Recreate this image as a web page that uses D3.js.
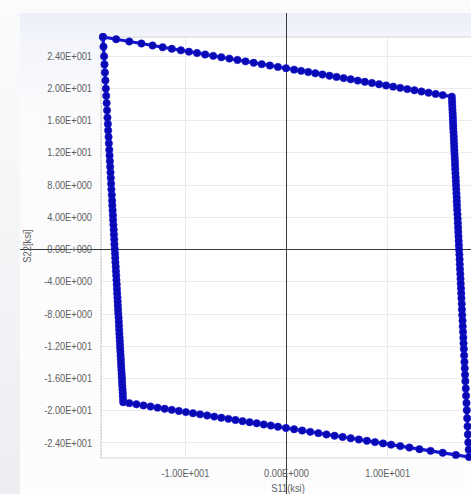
<!DOCTYPE html>
<html>
<head>
<meta charset="utf-8">
<script src="https://cdn.jsdelivr.net/npm/d3@7"></script>
<style>
html,body{margin:0;padding:0;background:#f7f8f9;}
svg{display:block;}
</style>
</head>
<body>
<svg id="chart" width="471" height="494"></svg>
<script>
// ---- data (S11 / S22 in ksi), traced along the loop ----
const topS11 = [-18.1,-16.8,-15.5,-14.3,-13.2,-12.2,-11.3,-10.4,-9.6,-8.8,-8.0,-7.2,-6.4,-5.6,-4.8,-4.0,-3.2,-2.4,-1.6,-0.8,0.0,0.8,1.5,2.2,2.9,3.6,4.3,5.0,5.7,6.4,7.1,7.8,8.5,9.2,9.9,10.6,11.3,12.0,12.7,13.4,14.1,14.8,15.5,16.4];
const topS22 = [26.30,26.02,25.74,25.49,25.25,25.03,24.84,24.65,24.48,24.31,24.13,23.96,23.79,23.62,23.45,23.28,23.10,22.93,22.76,22.59,22.42,22.25,22.10,21.95,21.80,21.65,21.50,21.35,21.20,21.05,20.89,20.74,20.59,20.44,20.29,20.14,19.99,19.84,19.69,19.54,19.39,19.24,19.09,18.90];

const rightS11 = [16.42,16.43,16.45,16.46,16.48,16.49,16.51,16.52,16.54,16.55,16.57,16.59,16.60,16.62,16.64,16.65,16.67,16.69,16.71,16.72,16.74,16.76,16.78,16.80,16.82,16.84,16.86,16.88,16.89,16.91,16.93,16.96,16.98,17.00,17.02,17.04,17.06,17.08,17.10,17.12,17.15,17.17,17.19,17.21,17.24,17.26,17.28,17.31,17.33,17.35,17.38,17.40,17.43,17.46,17.48,17.51,17.54,17.56,17.59,17.62,17.65,17.68,17.71,17.74,17.78,17.81,17.85,17.88,17.92,17.96,17.99,18.03,18.07,18.10];
const rightS22 = [18.5,18.1,17.7,17.3,16.9,16.5,16.1,15.7,15.3,14.9,14.45,14.0,13.55,13.1,12.65,12.2,11.75,11.3,10.85,10.4,9.9,9.4,8.9,8.4,7.9,7.4,6.9,6.4,5.9,5.4,4.85,4.3,3.75,3.2,2.65,2.1,1.55,1.0,0.45,-0.1,-0.7,-1.3,-1.9,-2.5,-3.1,-3.7,-4.3,-4.9,-5.5,-6.1,-6.8,-7.5,-8.2,-8.9,-9.6,-10.3,-11.0,-11.7,-12.4,-13.2,-14.0,-14.8,-15.6,-16.4,-17.3,-18.2,-19.1,-20.0,-21.0,-22.0,-23.0,-24.0,-24.9,-25.8];

const bottomS11 = [16.8,15.5,14.3,13.2,12.2,11.3,10.4,9.6,8.8,8.0,7.2,6.4,5.6,4.8,4.0,3.2,2.4,1.6,0.8,0.0,-0.8,-1.5,-2.2,-2.9,-3.6,-4.3,-5.0,-5.7,-6.4,-7.1,-7.8,-8.5,-9.2,-9.9,-10.6,-11.3,-12.0,-12.7,-13.4,-14.1,-14.8,-15.5,-16.1];
const bottomS22 = [-25.54,-25.28,-25.04,-24.83,-24.63,-24.45,-24.27,-24.11,-23.95,-23.79,-23.63,-23.47,-23.31,-23.16,-23.00,-22.84,-22.68,-22.52,-22.36,-22.20,-22.04,-21.90,-21.76,-21.62,-21.49,-21.35,-21.21,-21.07,-20.93,-20.79,-20.65,-20.51,-20.37,-20.23,-20.09,-19.95,-19.82,-19.68,-19.54,-19.40,-19.26,-19.12,-19.00];

const leftS11 = [-16.12,-16.14,-16.15,-16.17,-16.19,-16.21,-16.22,-16.24,-16.26,-16.28,-16.30,-16.32,-16.34,-16.36,-16.38,-16.40,-16.42,-16.44,-16.46,-16.48,-16.50,-16.52,-16.54,-16.56,-16.59,-16.61,-16.63,-16.65,-16.67,-16.70,-16.72,-16.74,-16.77,-16.79,-16.82,-16.84,-16.87,-16.89,-16.91,-16.94,-16.97,-16.99,-17.02,-17.04,-17.07,-17.10,-17.12,-17.15,-17.18,-17.20,-17.23,-17.27,-17.30,-17.33,-17.36,-17.39,-17.42,-17.45,-17.48,-17.52,-17.55,-17.59,-17.62,-17.66,-17.70,-17.74,-17.78,-17.82,-17.86,-17.91,-17.95,-17.99,-18.05,-18.1];
const leftS22 = [-18.6,-18.2,-17.8,-17.4,-17.0,-16.6,-16.2,-15.8,-15.4,-15.0,-14.55,-14.1,-13.65,-13.2,-12.75,-12.3,-11.85,-11.4,-10.95,-10.5,-10.0,-9.5,-9.0,-8.5,-8.0,-7.5,-7.0,-6.5,-6.0,-5.5,-4.95,-4.4,-3.85,-3.3,-2.75,-2.2,-1.65,-1.1,-0.55,0.0,0.6,1.2,1.8,2.4,3.0,3.6,4.2,4.8,5.4,6.0,6.7,7.4,8.1,8.8,9.5,10.2,10.9,11.6,12.3,13.1,13.9,14.7,15.5,16.3,17.2,18.1,19.0,19.9,20.9,21.9,22.9,23.9,25.1,26.3];

const yTickValues = [24,20,16,12,8,4,0,-4,-8,-12,-16,-20,-24];
const yTickLabels = ["2.40E+001","2.00E+001","1.60E+001","1.20E+001","8.00E+000","4.00E+000","0.00E+000","-4.00E+000","-8.00E+000","-1.20E+001","-1.60E+001","-2.00E+001","-2.40E+001"];
const xTickValues = [-10,0,10];
const xTickLabels = ["-1.00E+001","0.00E+000","1.00E+001"];
const xTitle = "S11(ksi)";
const yTitle = "S22[ksi]";

// ---- build point list ----
const s11 = [].concat(topS11, rightS11, bottomS11, leftS11);
const s22 = [].concat(topS22, rightS22, bottomS22, leftS22);
const pts = s11.map((v,i)=>({x:v, y:s22[i]}));

const svg = d3.select("#chart");
const W = 471, H = 494;

// background
const defs = svg.append("defs");
const g1 = defs.append("linearGradient").attr("id","panelGrad").attr("x1",0).attr("y1",0).attr("x2",0).attr("y2",1);
g1.append("stop").attr("offset","0%").attr("stop-color","#eceef9");
g1.append("stop").attr("offset","5%").attr("stop-color","#f3f5fb");
g1.append("stop").attr("offset","20%").attr("stop-color","#fbfbfd");
g1.append("stop").attr("offset","100%").attr("stop-color","#fdfdfd");
const g2 = defs.append("linearGradient").attr("id","leftGrad").attr("x1",0).attr("y1",0).attr("x2",0).attr("y2",1);
g2.append("stop").attr("offset","0%").attr("stop-color","#fafbfc");
g2.append("stop").attr("offset","100%").attr("stop-color","#eceef1");

svg.append("rect").attr("x",0).attr("y",0).attr("width",W).attr("height",H).attr("fill","#fbfbfc");
svg.append("rect").attr("x",0).attr("y",13).attr("width",20).attr("height",H-13).attr("fill","url(#leftGrad)");
svg.append("rect").attr("x",20).attr("y",13).attr("width",W-20).attr("height",H-13).attr("fill","url(#panelGrad)");

// scales
const x = d3.scaleLinear().domain([-18.1, 18.1]).range([103, 469]);
const y = d3.scaleLinear().domain([-25.8, 26.3]).range([457, 37]);

// plot area
svg.append("rect").attr("x",101).attr("y",37).attr("width",W-101+2).attr("height",421)
  .attr("fill","#ffffff").attr("stroke","#d4d6da").attr("stroke-width",1);
svg.append("line").attr("x1",101.5).attr("x2",101.5).attr("y1",37).attr("y2",458)
  .attr("stroke","#c8c8c8").attr("stroke-dasharray","1,2");

// gridlines
svg.append("g").selectAll("line").data(yTickValues).join("line")
  .attr("x1",102).attr("x2",W).attr("y1",d=>Math.round(y(d))+0.5).attr("y2",d=>Math.round(y(d))+0.5)
  .attr("stroke","#ebebeb").attr("stroke-width",1);
svg.append("g").selectAll("line").data(xTickValues.filter(d=>d!==0)).join("line")
  .attr("y1",38).attr("y2",457).attr("x1",d=>Math.round(x(d))+0.5).attr("x2",d=>Math.round(x(d))+0.5)
  .attr("stroke","#ebebeb").attr("stroke-width",1);

// zero axes
svg.append("line").attr("x1",20).attr("x2",W).attr("y1",Math.round(y(0))+0.5).attr("y2",Math.round(y(0))+0.5)
  .attr("stroke","#3a3a3a").attr("stroke-width",1);
svg.append("line").attr("y1",13).attr("y2",H).attr("x1",Math.round(x(0))+0.5).attr("x2",Math.round(x(0))+0.5)
  .attr("stroke","#3a3a3a").attr("stroke-width",1);

// condensed look: squeeze each label horizontally
function squeeze(sel, k){
  sel.each(function(){
    const len = this.getComputedTextLength();
    d3.select(this).attr("textLength", (len*k).toFixed(1)).attr("lengthAdjust","spacingAndGlyphs");
  });
}

// axes (labels only)
const fontFam = "'Liberation Sans','Arial',sans-serif";
const yAxis = d3.axisLeft(y).tickValues(yTickValues).tickSize(0).tickPadding(0)
  .tickFormat((d,i)=>yTickLabels[i]);
const ya = svg.append("g").attr("transform","translate(92,0)").call(yAxis);
ya.select(".domain").remove();
ya.selectAll("text").attr("font-family",fontFam).attr("font-size",11.5).attr("fill","#5e5e5e").call(squeeze,0.8);

const xAxis = d3.axisBottom(x).tickValues(xTickValues).tickSize(0).tickPadding(0)
  .tickFormat((d,i)=>xTickLabels[i]);
const xa = svg.append("g").attr("transform","translate(0,469)").call(xAxis);
xa.select(".domain").remove();
xa.selectAll("text").attr("font-family",fontFam).attr("font-size",11.5).attr("fill","#5e5e5e").call(squeeze,0.8);

// titles
svg.append("text").attr("x",x(0)+2).attr("y",492).attr("text-anchor","middle")
  .attr("font-family",fontFam).attr("font-size",11).attr("fill","#5e5e5e").text(xTitle).call(squeeze,0.85);
svg.append("text").attr("transform","translate(31,246) rotate(-90)").attr("text-anchor","middle")
  .attr("font-family",fontFam).attr("font-size",11).attr("fill","#5e5e5e").text(yTitle).call(squeeze,0.85);

// series
const line = d3.line().x(d=>x(d.x)).y(d=>y(d.y)).curve(d3.curveLinearClosed);
svg.append("path").datum(pts).attr("d",line).attr("fill","none")
  .attr("stroke","#1414d0").attr("stroke-width",3.2).attr("stroke-linejoin","round");
svg.append("g").selectAll("circle").data(pts).join("circle")
  .attr("cx",d=>x(d.x)).attr("cy",d=>y(d.y)).attr("r",3.7)
  .attr("fill","#0808b4").attr("stroke","#1c1cd4").attr("stroke-width",0.6);
</script>
</body>
</html>
